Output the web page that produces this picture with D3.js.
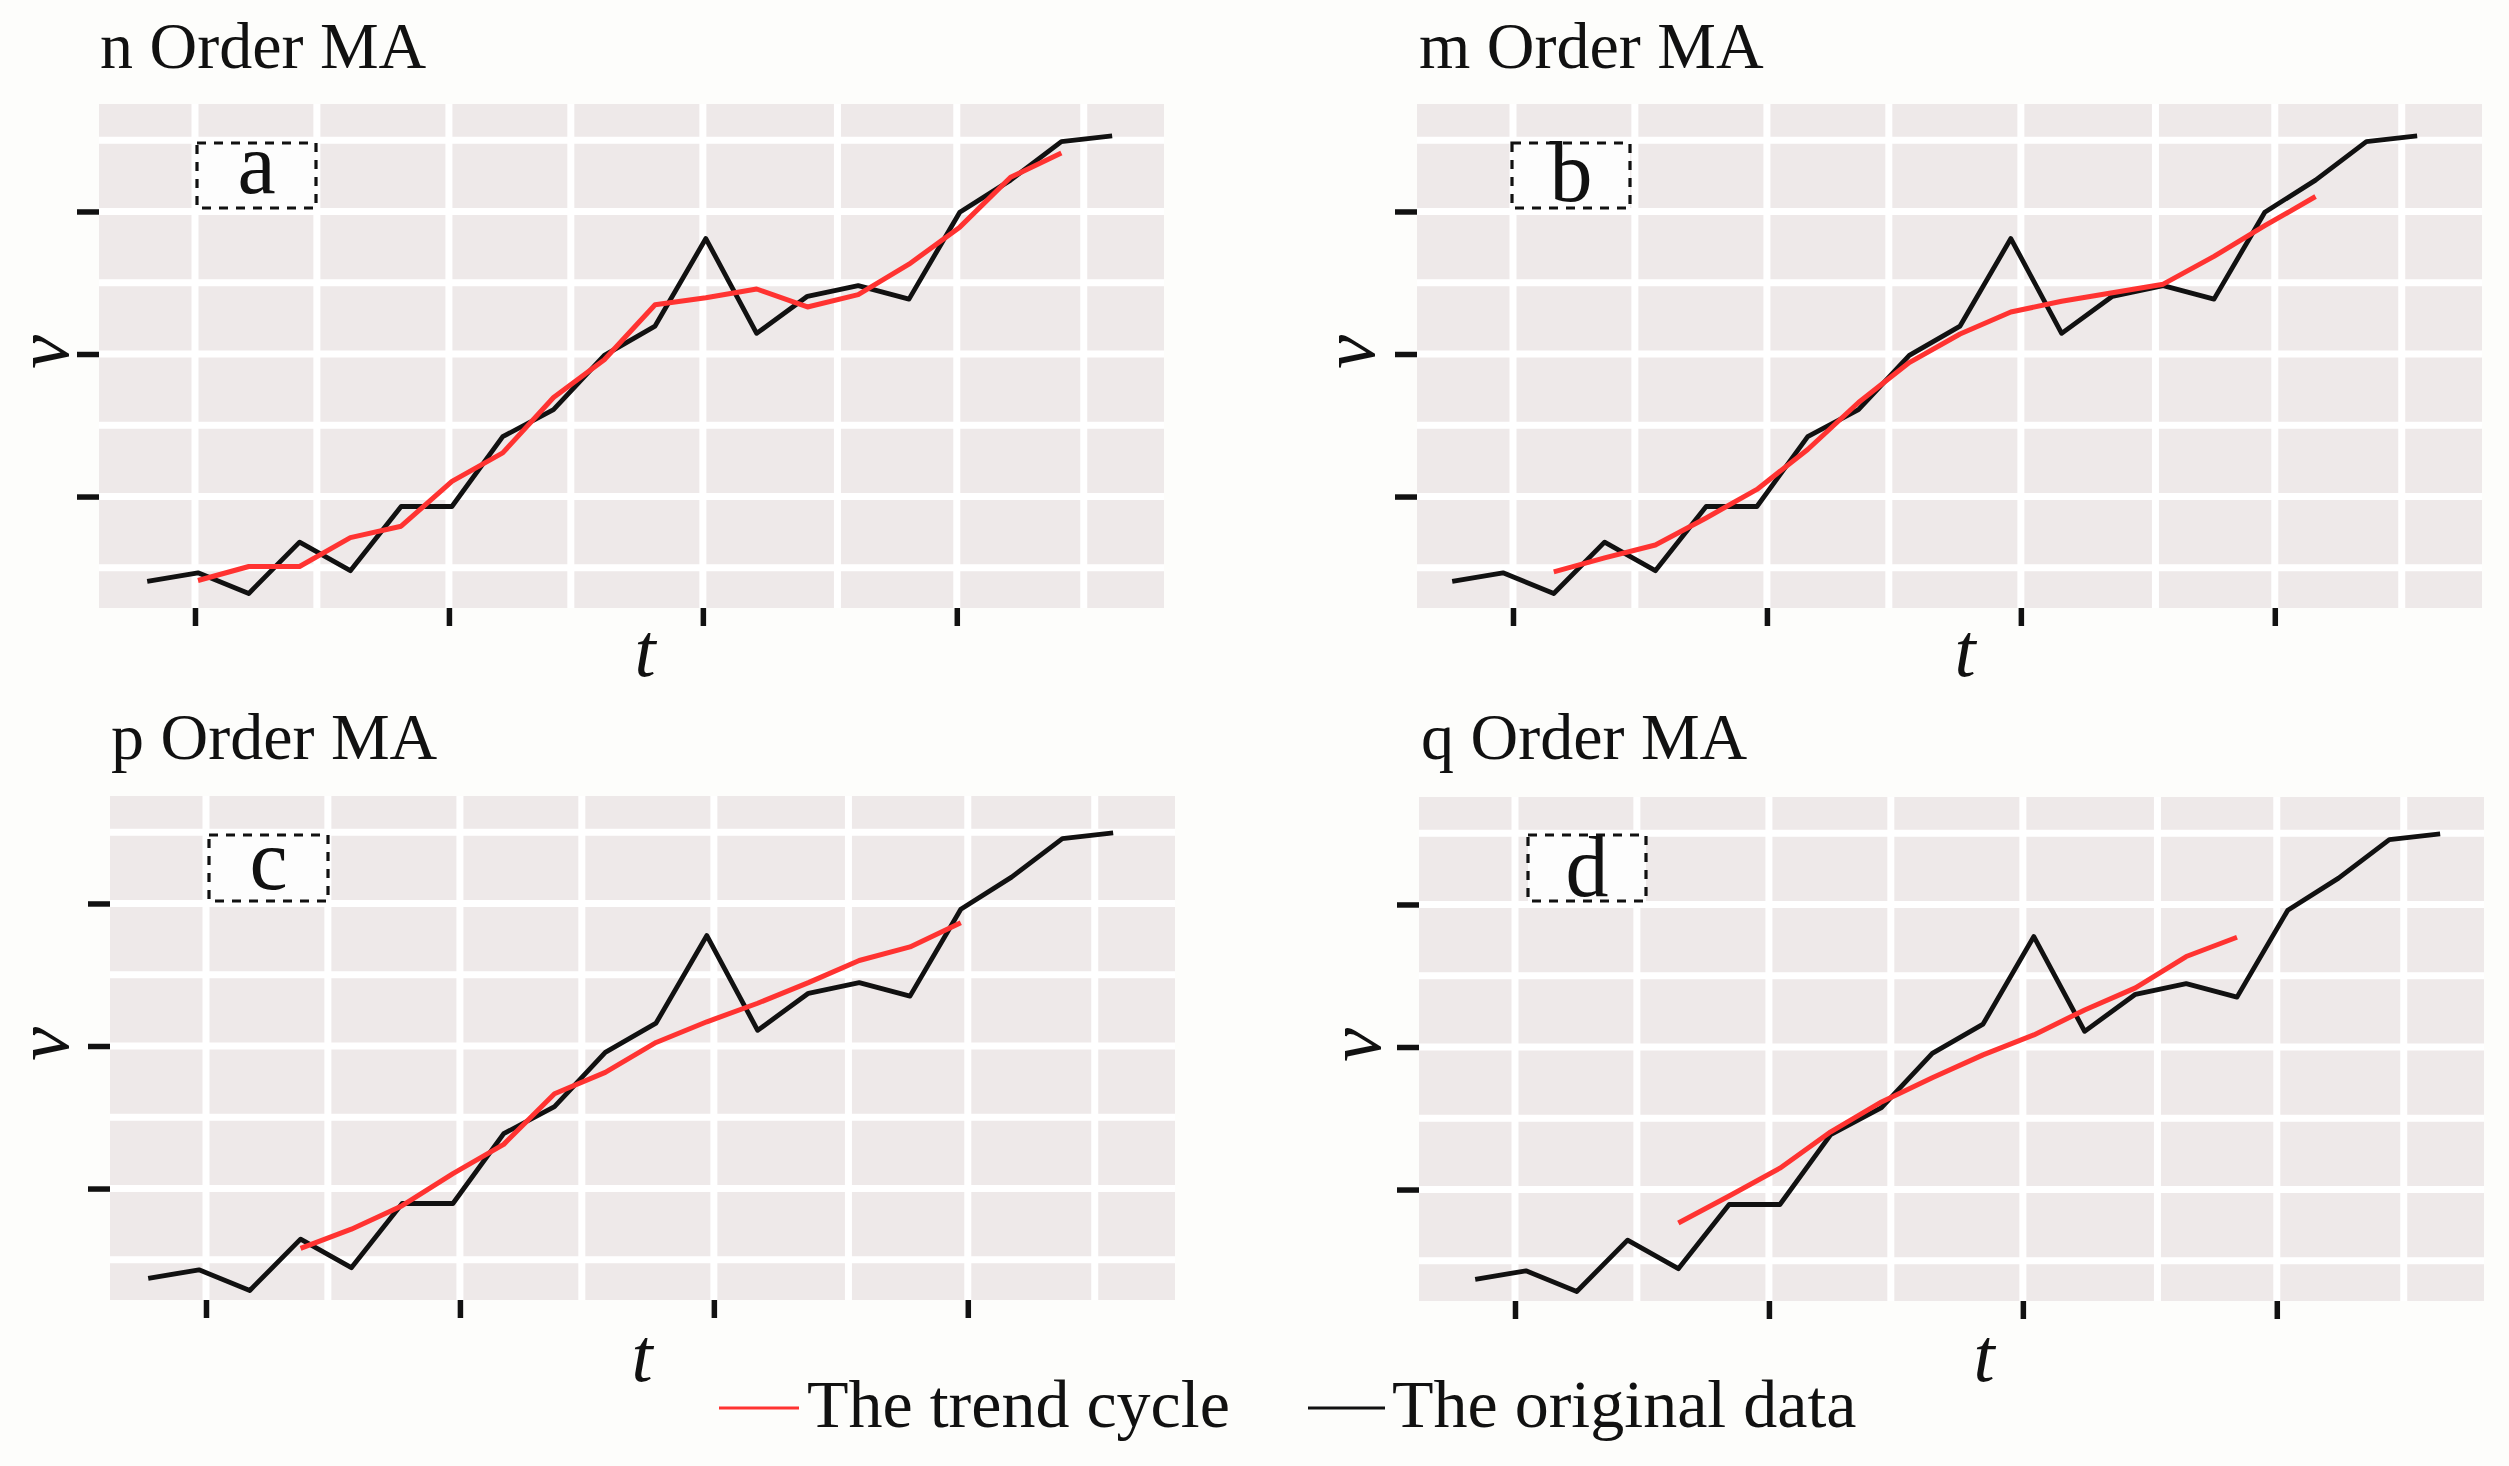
<!DOCTYPE html>
<html>
<head>
<meta charset="utf-8">
<script src="https://cdn.jsdelivr.net/npm/d3@7"></script>
<style>
  html, body { margin: 0; padding: 0; background: #fdfdfb; }
  svg { display: block; }
</style>
</head>
<body>
<svg id="chart" width="2509" height="1466"></svg>
<script>
// ---------------- DATA ----------------
const timeIndex = [0, 1, 2, 3, 4, 5, 6, 7, 8, 9, 10, 11, 12, 13, 14, 15, 16, 17, 18, 19];
const originalData = [4.05, 4.65, 3.2, 6.8, 4.8, 9.3, 9.3, 14.2, 16.1, 19.9,
                      21.96, 28.1, 21.45, 24.05, 24.8, 23.85, 29.95, 32.2, 34.9, 35.3];

// trend cycles (moving averages) of increasing order, first time index given separately
const trendN = [4.11, 5.09, 5.09, 7.12, 7.92, 11.06, 13.06, 16.95, 19.6, 23.46,
                23.95, 24.56, 23.3, 24.17, 26.3, 28.9, 32.4, 34.1];
const trendNStart = 1;
const trendM = [4.72, 5.7, 6.6, 8.5, 10.5, 13.3, 16.6, 19.4, 21.4, 22.95,
                23.7, 24.3, 24.9, 26.85, 29.0, 31.05];
const trendMStart = 2;
const trendP = [6.15, 7.5, 9.15, 11.4, 13.45, 17.0, 18.5, 20.6, 22.05, 23.35,
                24.8, 26.35, 27.3, 29.0];
const trendPStart = 3;
const trendQ = [8.0, 9.9, 11.85, 14.4, 16.5, 18.2, 19.8, 21.2, 22.95, 24.5, 26.7, 28.05];
const trendQStart = 4;

const panelTitles = ["n Order MA", "m Order MA", "p Order MA", "q Order MA"];
const panelLetters = ["a", "b", "c", "d"];
const legendLabels = ["The trend cycle", "The original data"];
const xAxisTitle = "t";
const yAxisTitle = "v";

const xMajorTicks = [1, 6, 11, 16];
const xMinorTicks = [3.4, 8.4, 13.65, 18.5];
const yMajorTicks = [10, 20, 30];
const yMinorTicks = [5, 15, 25, 35];
const xDomain = [-0.89, 20.08];
const yDomain = [2.18, 37.54];

// ---------------- LAYOUT / STYLE ----------------
const PW = 1065, PH = 504;
const layout = [
  { left: 99,   top: 104, dx: 3,   dy: 0, titleX: 100,  titleY: 68,  box: [197, 143, 119, 65],  letterY: 193, tX: 645,  tY: 676,  vX: 68 },
  { left: 1417, top: 104, dx: -10, dy: 0, titleX: 1419, titleY: 68,  box: [1512, 143, 118, 65], letterY: 201, tX: 1965, tY: 676,  vX: 1374 },
  { left: 110,  top: 796, dx: -7,  dy: 5, titleX: 111,  titleY: 759, box: [209, 835, 119, 66],  letterY: 889, tX: 642,  tY: 1381, vX: 68 },
  { left: 1419, top: 797, dx: 11,  dy: 5, titleX: 1421, titleY: 759, box: [1528, 835, 118, 66], letterY: 896, tX: 1984, tY: 1381, vX: 1380 }
];
const trends = [
  { values: trendN, start: trendNStart },
  { values: trendM, start: trendMStart },
  { values: trendP, start: trendPStart },
  { values: trendQ, start: trendQStart }
];

const COL_PANEL = "#eee9e9";
const COL_RED = "#ff3331";
const COL_BLACK = "#111111";
const SERIF = "'Liberation Serif', 'Times New Roman', serif";

const svg = d3.select("#chart");
svg.append("rect").attr("width", 2509).attr("height", 1466).attr("fill", "#fdfdfb");

layout.forEach((p, i) => {
  const g = svg.append("g");
  const gx = d3.scaleLinear().domain(xDomain).range([p.left, p.left + PW]);
  const gy = d3.scaleLinear().domain(yDomain).range([p.top + PH, p.top]);

  // panel background
  g.append("rect").attr("x", p.left).attr("y", p.top)
    .attr("width", PW).attr("height", PH).attr("fill", COL_PANEL);

  // grid
  const grid = g.append("g").attr("stroke", "#ffffff").attr("stroke-width", 7);
  grid.selectAll("line.v").data(xMinorTicks.concat(xMajorTicks)).join("line")
    .attr("class", "v")
    .attr("x1", d => gx(d)).attr("x2", d => gx(d))
    .attr("y1", p.top).attr("y2", p.top + PH);
  grid.selectAll("line.h").data(yMinorTicks.concat(yMajorTicks)).join("line")
    .attr("class", "h")
    .attr("y1", d => gy(d)).attr("y2", d => gy(d))
    .attr("x1", p.left).attr("x2", p.left + PW);

  // axes (ticks only)
  const ax = g.append("g").attr("transform", `translate(0,${p.top + PH})`)
    .call(d3.axisBottom(gx).tickValues(xMajorTicks).tickSize(18).tickFormat(""));
  ax.select(".domain").remove();
  ax.selectAll(".tick line").attr("stroke", COL_BLACK).attr("stroke-width", 5.5);

  const ay = g.append("g").attr("transform", `translate(${p.left},0)`)
    .call(d3.axisLeft(gy).tickValues(yMajorTicks).tickSize(22).tickFormat(""));
  ay.select(".domain").remove();
  ay.selectAll(".tick line").attr("stroke", COL_BLACK).attr("stroke-width", 5.5);

  // data lines
  const line = d3.line()
    .x(d => gx(d[0]) + p.dx)
    .y(d => gy(d[1]) + p.dy);

  const orig = timeIndex.map((t, k) => [t, originalData[k]]);
  g.append("path").datum(orig).attr("d", line)
    .attr("fill", "none").attr("stroke", COL_BLACK).attr("stroke-width", 4.8)
    .attr("stroke-linejoin", "round").attr("stroke-linecap", "butt");

  const tr = trends[i];
  const trend = tr.values.map((v, k) => [tr.start + k, v]);
  g.append("path").datum(trend).attr("d", line)
    .attr("fill", "none").attr("stroke", COL_RED).attr("stroke-width", 5)
    .attr("stroke-linejoin", "round").attr("stroke-linecap", "butt");

  // letter box
  g.append("rect").attr("x", p.box[0]).attr("y", p.box[1])
    .attr("width", p.box[2]).attr("height", p.box[3])
    .attr("fill", "#fdfdfd").attr("stroke", COL_BLACK)
    .attr("stroke-width", 3.2).attr("stroke-dasharray", "9,8");
  g.append("text").attr("x", p.box[0] + p.box[2] / 2).attr("y", p.letterY)
    .attr("text-anchor", "middle").attr("font-family", SERIF)
    .attr("font-size", 86).attr("fill", COL_BLACK).text(panelLetters[i]);

  // title
  g.append("text").attr("x", p.titleX).attr("y", p.titleY)
    .attr("font-family", SERIF).attr("font-size", 66).attr("fill", COL_BLACK)
    .text(panelTitles[i]);

  // axis titles
  g.append("text").attr("x", p.tX).attr("y", p.tY)
    .attr("text-anchor", "middle").attr("font-family", SERIF)
    .attr("font-style", "italic").attr("font-size", 76).attr("fill", COL_BLACK)
    .text(xAxisTitle);
  const vy = p.top + PH / 2 - 4;
  g.append("text")
    .attr("transform", `translate(${p.vX},${vy}) rotate(-90)`)
    .attr("text-anchor", "middle").attr("font-family", SERIF)
    .attr("font-style", "italic").attr("font-size", 76).attr("fill", COL_BLACK)
    .text(yAxisTitle);
});

// legend
const legend = svg.append("g");
const legendItems = [
  { label: legendLabels[0], color: COL_RED, x1: 719, x2: 799, tx: 807 },
  { label: legendLabels[1], color: COL_BLACK, x1: 1308, x2: 1385, tx: 1392 }
];
legendItems.forEach(it => {
  legend.append("line").attr("x1", it.x1).attr("x2", it.x2)
    .attr("y1", 1408).attr("y2", 1408)
    .attr("stroke", it.color).attr("stroke-width", 3.2);
  legend.append("text").attr("x", it.tx).attr("y", 1427)
    .attr("font-family", SERIF).attr("font-size", 68).attr("fill", COL_BLACK)
    .text(it.label);
});
</script>
</body>
</html>
